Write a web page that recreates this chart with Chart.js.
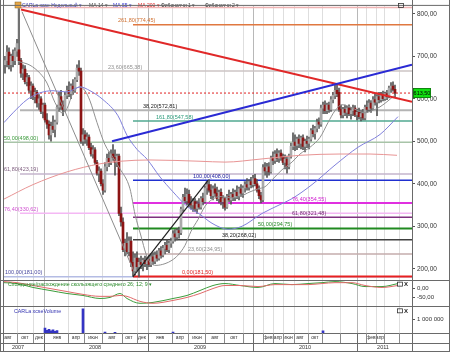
<!DOCTYPE html>
<html lang="ru">
<head>
<meta charset="UTF-8">
<title>CARLa xcse</title>
<script src="https://cdn.jsdelivr.net/npm/chart.js"></script>
<style>
  html, body { margin: 0; padding: 0; background: #fff; }
  canvas { display: block; }
</style>
</head>
<body>
<canvas id="chart" width="450" height="352"></canvas>
<script>
// weekly candles, index 0 = first week (Aug 2007)
const opens = [
  680,690,710,680,700,690,712,715,690,660, 670,640,650,620,630,605,615,590,600,570,
  585,550,540,515,535,528,545,580,605,585, 575,608,620,612,630,620,645,672,665,500,
  515,505,510,485,470,480,450,425,430,400, 385,440,460,450,470,462,450,465,330,310,
  245,260,240,265,215,195,225,205,215,210, 220,212,222,210,228,218,232,225,242,232,
  248,255,245,260,265,282,275,290,285,340, 368,360,375,355,350,358,342,352,345,365,
  358,390,398,385,372,388,378,365,380,358, 365,345,370,362,375,368,380,372,388,378,
  390,398,392,405,398,412,400,385,372,362, 438,430,440,428,460,455,470,460,472,462,
  450,458,440,465,488,498,490,505,495,508, 488,500,495,505,525,518,530,545,540,578,
  585,572,585,575,598,608,620,615,575,562, 575,568,578,565,572,578,562,568,558,565,
  555,580,575,590,578,598,592,605,598,610, 600,612,605,625,630,622];
const highs = [
  700,725,720,705,715,720,740,812,695,680, 678,660,655,640,635,625,620,610,605,590,
  590,565,548,545,560,550,585,615,620,595, 615,630,640,635,645,650,680,690,672,530,
  525,520,515,495,490,485,455,440,435,410, 450,470,475,480,492,480,470,470,345,320,
  270,285,275,275,240,235,240,225,230,225, 230,228,232,235,238,240,242,248,252,255,
  262,268,265,272,290,292,295,298,345,375, 390,388,385,370,365,365,360,365,370,378,
  395,405,410,398,395,400,392,385,388,372, 368,375,385,380,388,385,395,392,398,395,
  405,412,410,415,420,422,410,395,380,445, 450,448,450,465,475,478,482,478,480,470,
  468,465,470,495,520,515,510,515,512,515, 505,512,510,530,538,535,552,555,585,592,
  595,590,592,605,615,632,635,625,585,580, 585,582,586,580,585,584,575,578,572,575,
  585,595,598,596,605,612,610,615,615,618, 616,620,630,638,640,632];
const lows = [
  660,675,670,665,675,680,700,680,650,645, 635,630,615,600,598,590,580,575,565,555,
  545,530,505,500,520,510,540,570,575,560, 570,600,605,600,610,615,640,655,495,490,
  495,490,480,465,460,445,420,405,395,375, 380,430,440,445,455,420,440,325,300,240,
  230,235,230,205,182,185,195,181,200,195, 205,198,205,205,210,212,218,220,225,228,
  235,240,238,250,260,265,268,272,280,335, 355,350,345,340,335,335,330,340,340,350,
  355,375,380,365,362,370,360,355,350,342, 338,342,358,352,360,360,365,362,370,368,
  380,385,385,390,392,395,380,365,355,358, 420,415,420,425,445,448,452,450,455,445,
  435,425,435,460,480,478,480,485,482,480, 475,485,482,500,510,505,522,530,535,565,
  565,565,568,570,590,600,605,570,555,555, 560,555,560,552,560,558,550,552,548,550,
  550,568,570,568,575,585,560,590,592,595, 596,598,602,615,618,605];
const closes = [
  690,710,680,700,690,712,730,690,660,670, 640,650,620,630,605,615,590,600,570,585,
  550,540,515,535,528,545,580,605,585,575, 608,620,612,630,620,645,672,665,500,515,
  505,510,485,470,480,450,425,430,400,385, 440,460,450,470,462,450,465,330,310,245,
  260,240,265,215,195,225,205,215,210,220, 212,222,210,228,218,232,225,242,232,248,
  255,245,260,265,282,275,290,285,340,368, 360,375,355,350,358,342,352,345,365,358,
  390,398,385,372,388,378,365,380,358,365, 345,370,362,375,368,380,372,388,378,390,
  398,392,405,398,412,400,385,372,362,438, 430,440,428,460,455,470,460,472,462,450,
  458,440,465,488,498,490,505,495,508,488, 500,495,505,525,518,530,545,540,578,585,
  572,585,575,598,608,620,612,575,562,575, 568,578,565,572,578,562,568,558,565,555,
  580,575,590,578,598,592,605,598,610,600, 612,605,625,630,622,613.5];
const lastPrice = 613.5;

// moving averages (week index, price)
const ma14X = [6.5,12.5,17.5,21,25,28.5,31,34,37.5,40,42.5,46,50,54,57.5,62.5,65,68,70.5,72.5,75.5,80,83.5,86.5,90,93,96.5,100,103.5,107.5,112.5,117.5,122.5,126.5,130,133.5,138.5,143.5,147.5,152.5,157.5,161.5,165,168.5,172.5,176.5,180,183.5,187.5,191.5,195];
const ma14Y = [688,679,660,637,591,567,577,614,628,619,595,544,492,462,435,388,328,277,235,215,208,212,220,232,255,288,316,347,363,370,367,370,381,388,393,409,433,451,470,486,509,544,572,586,581,572,567,572,581,595,609];
const ma55X = [-0.5,4,11,17.5,24,31,37.5,42.5,49,56.5,61,66,71,77.5,84,91,97.5,103.5,111.5,118.5,128.5,137.5,143.5,153.5,165,176.5,187.5,196.5];
const ma55Y = [544,567,598,614,619,616,628,619,598,560,514,481,458,416,381,347,328,307,293,300,330,351,365,398,444,486,516,558];
const ma200X = [-0.5,14,31,47.5,57.5,72.5,97.5,110,127.5,147.5,167.5,182.5,196];
const ma200Y = [364,398,428,447,453,456,453,451,458,467,470,470,467];

// trend lines
const redLineX = [8, 203.5], redLineY = [810, 593];
const blueLineX = [53.5, 203.5], blueLineY = [500, 680];
const blackLineX = [64, 101.5], blackLineY = [181.5, 408];
const grayLineX = [8.5, 65], grayLineY = [805, 188];

// Fibonacci 1 (815 -> 181) and Fibonacci 2 (181,50 -> 408,00)
const fib1Names = ['0,00', '23,60', '38,20', '50,00', '61,80', '76,40', '100,00'];
const fib1Prices = [815, 665.38, 572.81, 498.00, 423.19, 330.62, 181.00];
const fib1Start = [7.5, 7.5, 7.5, -0.5, 7.5, 7.5, -0.5];
const fib1LabelX = [null, 51.5, 69, -0.5, -0.5, -0.5, 0];
const fib1Colors = ['#f0b4b4', '#cdc4c4', '#b4b4b4', '#a8c4a8', '#c4b4cc', '#f4b8f4', '#b4bce4'];
const fib1TextColors = ['#c06060', '#909090', '#202020', '#3a9a3a', '#806080', '#d050d0', '#4a4aa0'];
const fib2Names = ['0,00', '23,60', '38,20', '50,00', '61,80', '76,40', '100,00', '161,80', '261,80'];
const fib2Prices = [181.50, 234.95, 268.02, 294.75, 321.48, 354.55, 408.00, 547.58, 774.45];
const fib2Start = 64;
const fib2LabelX = [88.5, 91.5, 108.5, 126.5, 143.5, 143.5, 94, 75.5, 56.5];
const fib2Colors = ['#e82020', '#c4acac', '#404040', '#208a20', '#803080', '#e030e0', '#2030d0', '#50a890', '#e07840'];
const fib2TextColors = ['#e02020', '#909090', '#202020', '#2a8a2a', '#703070', '#d020d0', '#2020a0', '#2a9a7a', '#d07030'];

// MACD 26;12;9
const macdX = [-0.5,6,14,22.5,31,39,47.5,52.5,57.5,61,67.5,74,84,91,97.5,104,110,117.5,126.5,135,143.5,151.5,158.5,165,173.5,180,188.5,196.5];
const macdLine = [33,28,6,-11,-28,-39,-56,-50,-28,-56,-83,-78,-56,-39,-11,17,28,17,6,28,22,28,33,39,28,11,11,28];
const macdSignal = [39,33,17,0,-17,-33,-44,-44,-39,-44,-72,-83,-67,-50,-28,0,17,17,11,22,22,22,28,33,33,17,6,17];

// volume
const volIdx = [20, 21, 22, 23, 24, 25, 26, 39, 50, 55, 84, 159];
const volVals = [350000, 200000, 260000, 150000, 230000, 120000, 180000, 1750000, 60000, 50000, 60000, 150000];

// axis ticks
const priceTicks = [200, 300, 400, 500, 600, 700, 800];
const monthPos = [1.5,10,17,26,35.5,44,53.5,62,68.5,77.5,87.5,96,105,114.5,131.5,136.5,141.5,147.5,155,183,187.5];
const monthNames = ['авг','окт','дек','янв','апр','июн','авг','окт','дек','янв','апр','июн','авг','окт','фев','апр','июн','авг','окт','фев','апр'];
const yearPos = [6.5, 45, 97.5, 150, 189];
const yearNames = ['2007', '2008', '2009', '2010', '2011'];
const yearBounds = [19.5, 71.5, 124, 176];
const gridPos = [6,14,19.5,31.5,39.5,48.5,58.5,66,71.5,83.5,91.5,100,109.5,119,124,129,134,139,144.5,151.5,158.5,167.5,176,180.5,185.5,189.5,197];

const XMIN = -0.5, XMAX = 203.5;
const FONT = '"Liberation Sans", Arial, sans-serif';
Chart.defaults.font.family = FONT;

const num = v => v.toFixed(2).replace('.', ',');
const pts = (xs, ys) => xs.map((x, k) => ({ x: x, y: ys[k] }));
const seg = (x0, x1, y) => [{ x: x0, y: y }, { x: x1, y: y }];
function lineDs(data, color, width, order, extra) {
  return Object.assign({
    type: 'line', data: data, borderColor: color, borderWidth: width,
    pointRadius: 0, fill: false, order: order, xAxisID: 'x', yAxisID: 'y'
  }, extra || {});
}

const datasets = [];
fib1Prices.forEach((p, k) => datasets.push(lineDs(seg(fib1Start[k], XMAX, p), fib1Colors[k], k === 2 ? 2 : 1.5, 7)));
fib2Prices.forEach((p, k) => datasets.push(lineDs(seg(fib2Start, XMAX, p), fib2Colors[k], [0, 3, 5].includes(k) ? 2 : 1.5, 6)));
datasets.push(lineDs(seg(XMIN, XMAX, lastPrice), '#e02020', 1, 5, { borderDash: [2, 2] }));

const idx = closes.map((c, i) => i);
datasets.push({
  type: 'bar', xAxisID: 'x', yAxisID: 'y', order: 4, grouped: false, barThickness: 1,
  data: idx.map(i => ({ x: i, y: [lows[i], highs[i]] })),
  backgroundColor: '#555555'
});
datasets.push({
  type: 'bar', xAxisID: 'x', yAxisID: 'y', order: 3, grouped: false, barThickness: 2,
  data: idx.map(i => ({ x: i, y: [opens[i], closes[i]] })),
  backgroundColor: ctx => closes[ctx.dataIndex] >= opens[ctx.dataIndex] ? '#aaaaaa' : '#8c1414'
});

datasets.push(lineDs(pts(ma200X, ma200Y), '#e89494', 1, 2, { cubicInterpolationMode: 'monotone' }));
datasets.push(lineDs(pts(ma55X, ma55Y), '#8080dc', 1, 2, { cubicInterpolationMode: 'monotone' }));
datasets.push(lineDs(pts(ma14X, ma14Y), '#909090', 1, 2, { cubicInterpolationMode: 'monotone' }));

datasets.push(lineDs(pts(grayLineX, grayLineY), '#8c8c8c', 1, 1));
datasets.push(lineDs(pts(blackLineX, blackLineY), '#202020', 1.2, 1));
datasets.push(lineDs(pts(blueLineX, blueLineY), '#2a2ad4', 2, 0));
datasets.push(lineDs(pts(redLineX, redLineY), '#e02828', 2, 0));

datasets.push(lineDs(pts(macdX, macdSignal), '#e06a6a', 1, 1, { yAxisID: 'yMacd', cubicInterpolationMode: 'monotone' }));
datasets.push(lineDs(pts(macdX, macdLine), '#3c9c3c', 1, 1, { yAxisID: 'yMacd', cubicInterpolationMode: 'monotone' }));

datasets.push({
  type: 'bar', xAxisID: 'x', yAxisID: 'yVol', order: 1, grouped: false, barThickness: 2,
  data: volIdx.map((v, k) => ({ x: v, y: volVals[k] })),
  backgroundColor: '#3434c4'
});

function xAxis(ticks, weight, height, extra) {
  return Object.assign({
    type: 'linear', position: 'bottom', min: XMIN, max: XMAX, offset: false, weight: weight,
    afterBuildTicks: s => { s.ticks = ticks.map(v => ({ value: v })); },
    afterFit: s => { s.height = height; },
    border: { display: false },
    grid: { display: false, drawTicks: false, offset: false }
  }, extra);
}
function yAxis(min, max, ticks, weight, fmt, size) {
  return {
    type: 'linear', position: 'right', stack: 'panels', stackWeight: weight, min: min, max: max,
    afterBuildTicks: s => { s.ticks = ticks.map(v => ({ value: v })); },
    afterFit: s => { s.width = 38; },
    ticks: { callback: fmt, font: { size: size }, color: '#333', padding: 2 },
    grid: { drawOnChartArea: false, tickLength: 3, color: '#555' },
    border: { color: '#666' }
  };
}

const overlay = {
  id: 'overlay',
  afterDatasetsDraw(chart) {
    const { ctx, scales } = chart;
    const X = scales.x, Y = scales.y;
    ctx.save();
    ctx.textAlign = 'left';
    ctx.textBaseline = 'alphabetic';
    ctx.font = '5.5px ' + FONT;
    const fibText = (names, prices, xs, colors) => names.forEach((n, k) => {
      if (xs[k] === null) return;
      ctx.fillStyle = colors[k];
      ctx.fillText(n + '(' + num(prices[k]) + ')', X.getPixelForValue(xs[k]), Y.getPixelForValue(prices[k]) - 2.5);
    });
    fibText(fib1Names, fib1Prices, fib1LabelX, fib1TextColors);
    fibText(fib2Names, fib2Prices, fib2LabelX, fib2TextColors);

    // legend line
    ctx.font = '5px ' + FONT;
    ctx.textBaseline = 'middle';
    ctx.fillStyle = '#e8a848';
    ctx.fillRect(15, 2, 6, 6);
    ctx.strokeStyle = '#806020';
    ctx.lineWidth = 0.5;
    ctx.strokeRect(15, 2, 6, 6);
    [['CARLa xcse Недельный ▾', '#3030b0', 22], ['MA 14 ▾', '#404040', 89], ['MA 55 ▾', '#3030d0', 113],
     ['MA 200 ▾', '#e02020', 138], ['Фибоначчи 1 ▾', '#303030', 161], ['Фибоначчи 2 ▾', '#303030', 205]]
      .forEach(t => { ctx.fillStyle = t[1]; ctx.fillText(t[0], t[2], 6); });

    const yM = scales.yMacd.top, yV = scales.yVol.top;
    ctx.font = '5.3px ' + FONT;
    ctx.fillStyle = '#2a8a2a';
    ctx.fillText('Схождение/расхождение скользящего среднего 26; 12; 9 ▾', 8, yM + 5);
    ctx.fillStyle = '#3030b0';
    ctx.fillText('CARLa xcseVolume', 14, yV + 5);
    ctx.restore();
  },
  afterDraw(chart) {
    const { ctx, chartArea: a, scales, width, height } = chart;
    const X = scales.x;
    ctx.save();
    ctx.strokeStyle = '#6a6a6a';
    ctx.lineWidth = 1;
    const hl = (y, x0, x1) => { ctx.beginPath(); ctx.moveTo(x0, y); ctx.lineTo(x1, y); ctx.stroke(); };
    const vl = (x, y0, y1) => { ctx.beginPath(); ctx.moveTo(x, y0); ctx.lineTo(x, y1); ctx.stroke(); };
    hl(a.top - 0.5, 0, width);
    [scales.yMacd.top, scales.yVol.top, a.bottom, X.bottom].forEach(y => hl(Math.round(y) + 0.5, 0, width));
    hl(height - 0.5, 0, width);
    vl(0.5, 0, height);
    vl(Math.round(a.left) - 0.5, 0, height);
    vl(Math.round(a.right) + 0.5, 0, height);
    vl(width - 0.5, 0, height);
    ctx.strokeStyle = '#8a8a8a';
    gridPos.forEach(v => vl(Math.round(X.getPixelForValue(v)) + 0.5, X.top, X.bottom));
    ctx.strokeStyle = '#6a6a6a';
    yearBounds.forEach(v => vl(Math.round(X.getPixelForValue(v)) + 0.5, X.top, height));

    // panel buttons
    ctx.lineWidth = 0.8;
    ctx.strokeStyle = '#333';
    ctx.strokeRect(398.5, 3.5, 5, 4);
    ctx.font = 'bold 6px ' + FONT;
    ctx.fillStyle = '#222';
    ctx.textBaseline = 'middle';
    [scales.yMacd.top, scales.yVol.top].forEach(t => {
      ctx.strokeRect(397.5, t + 2.5, 5, 4);
      ctx.fillText('X', 404, t + 5);
    });

    // last price tag
    const py = scales.y.getPixelForValue(lastPrice);
    ctx.fillStyle = '#10e010';
    ctx.fillRect(a.right + 1, py - 5, 18, 10);
    ctx.strokeStyle = '#107010';
    ctx.strokeRect(a.right + 1.5, py - 4.5, 17, 9);
    ctx.fillStyle = '#000';
    ctx.font = '5.5px ' + FONT;
    ctx.textAlign = 'center';
    ctx.fillText(num(lastPrice), a.right + 10, py);
    ctx.restore();
  }
};

new Chart(document.getElementById('chart'), {
  type: 'line',
  data: { datasets: datasets },
  options: {
    responsive: false,
    animation: false,
    events: [],
    layout: { padding: { left: 4, right: 0, top: 2, bottom: 0 } },
    plugins: { legend: { display: false }, tooltip: { enabled: false } },
    scales: {
      y: yAxis(174.4, 818.6, priceTicks, 277, v => num(v), 6.5),
      yMacd: yAxis(-100, 50, [0, -50], 27, v => num(v), 6),
      yVol: yAxis(0, 1930000, [1000000], 27, () => '1 000 000', 6),
      xg: xAxis(gridPos, 0, 0, {
        ticks: { display: false },
        grid: {
          display: true, offset: false, drawTicks: false,
          color: c => yearBounds.includes(c.tick && c.tick.value) ? '#b8b8b8' : '#dedede'
        }
      }),
      x: xAxis(monthPos, 1, 10, {
        ticks: { callback: (v, i) => monthNames[i], font: { size: 5 }, color: '#333', padding: 2, autoSkip: false, maxRotation: 0, minRotation: 0 }
      }),
      x2: xAxis(yearPos, 2, 9, {
        ticks: { callback: (v, i) => yearNames[i], font: { size: 5.5 }, color: '#333', padding: 1.5, autoSkip: false, maxRotation: 0, minRotation: 0 }
      })
    }
  },
  plugins: [overlay]
});
</script>
</body>
</html>
